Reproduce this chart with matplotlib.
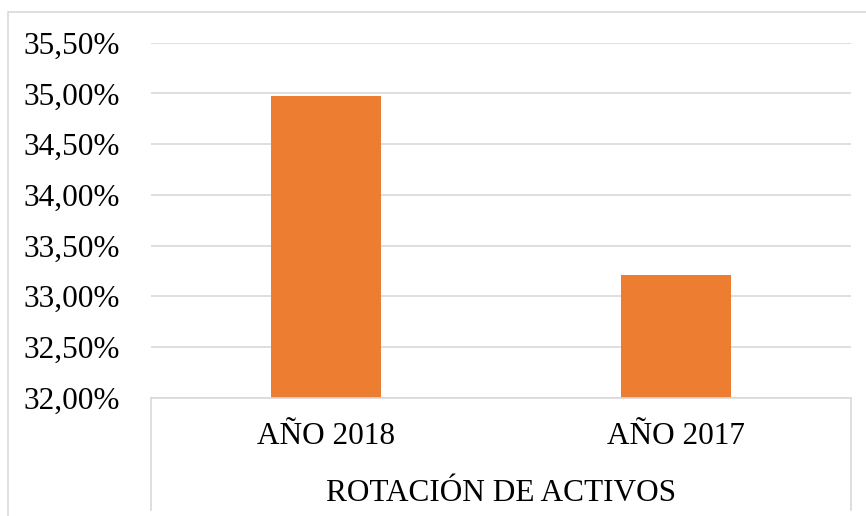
import matplotlib.pyplot as plt
from matplotlib.patches import Rectangle
from matplotlib.ticker import FuncFormatter

# data
categories = ["AÑO 2018", "AÑO 2017"]
values = [34.97, 33.21]
group_label = "ROTACIÓN DE ACTIVOS"
y_ticks = [32.0, 32.5, 33.0, 33.5, 34.0, 34.5, 35.0, 35.5]

W, H = 866, 516
plt.rcParams["font.family"] = ["Liberation Serif", "DejaVu Serif"]

fig = plt.figure(figsize=(W / 100, H / 100), dpi=100)

# plot area in pixel terms
left, right, top, bottom = 151, 850.5, 42.7, 397.7
ax = fig.add_axes([left / W, 1 - bottom / H, (right - left) / W, (bottom - top) / H])

# outer chart border (partly cut off like the reference)
fig.patches.append(Rectangle((8 / W, -0.05), 1.1, 1 - 12 / H + 0.05,
                             transform=fig.transFigure, fill=False,
                             edgecolor="#d9d9d9", lw=1.2, zorder=0))

x = range(len(categories))
ax.bar(x, values, width=0.315, color="#ED7D31", zorder=3)

ax.set_xlim(-0.5, len(categories) - 0.5)
ax.set_ylim(32.0, 35.5)
ax.set_yticks(y_ticks)
ax.yaxis.set_major_formatter(FuncFormatter(lambda v, p: f"{v:.2f}".replace(".", ",") + "%"))
ax.tick_params(axis="y", length=0, pad=22.3, labelsize=22.5)
ax.set_xticks([])

for s in ax.spines.values():
    s.set_visible(False)
ax.grid(axis="y", color="#d9d9d9", lw=1.2, zorder=0)

# baseline and the category-axis dividers
ax.plot([0, 1], [0, 0], transform=ax.transAxes, color="#d9d9d9", lw=1.2, clip_on=False, zorder=4)
for xa in (0, 1):
    ax.plot([xa, xa], [0, -0.315], transform=ax.transAxes, color="#d9d9d9",
            lw=1.2, clip_on=False)

tr = ax.get_xaxis_transform()
for i, name in enumerate(categories):
    ax.text(i, -0.1296, name, transform=tr, ha="center", va="baseline", fontsize=22.5)
ax.text(0.5, -0.292, group_label, transform=ax.transAxes, ha="center",
        va="baseline", fontsize=22.5)

fig.savefig("out.png", dpi=100)
